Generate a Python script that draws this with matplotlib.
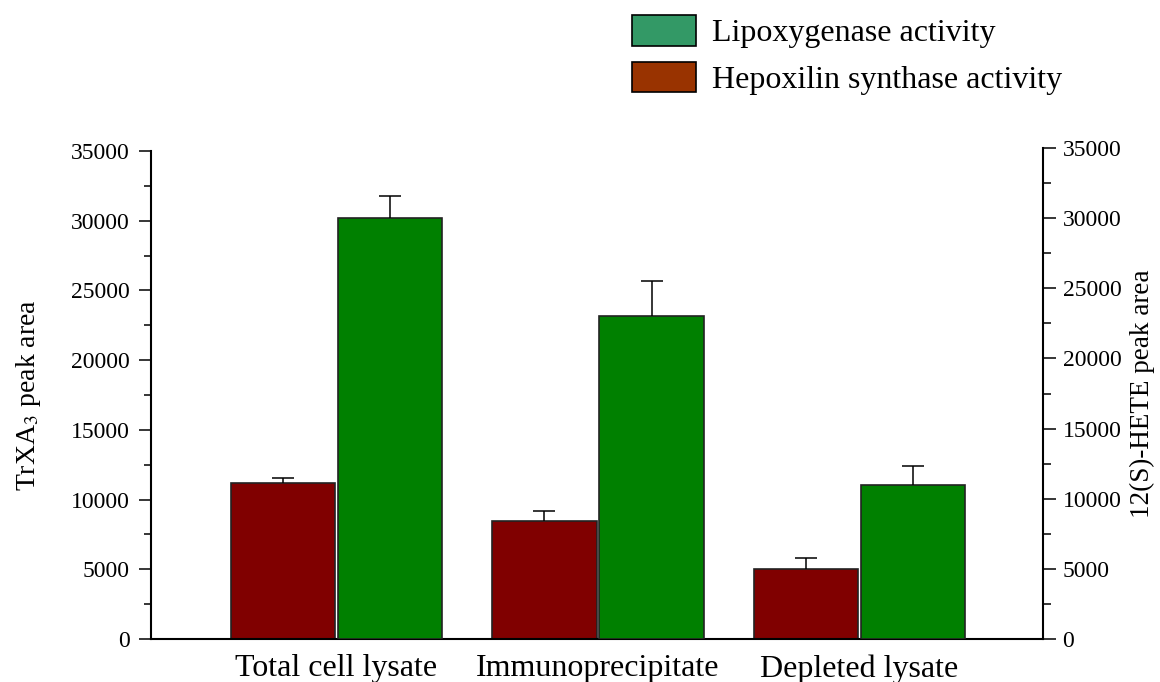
import numpy as np
import matplotlib
matplotlib.use("Agg")
import matplotlib.pyplot as plt
from matplotlib.patches import Patch

# * values
categories = ["Total cell lysate", "Immunoprecipitate", "Depleted lysate"]
hepox = [11200, 8500, 5000]  # TrXA3 peak area, left axis
hepox_err = [350, 700, 800]
lipox = [30000, 23000, 11000]  # 12(S)-HETE peak area, right axis
lipox_err = [1550, 2550, 1350]
yticks = [0, 5000, 10000, 15000, 20000, 25000, 30000, 35000]

plt.rcParams["font.family"] = ["Liberation Serif", "DejaVu Serif"]
plt.rcParams["mathtext.fontset"] = "stix"

fig = plt.figure(figsize=(11.6, 6.82), dpi=100)

plt_axes = [0.1302, 0.0630, 0.7690, 0.7155]  # left, bottom, width, height
ax = fig.add_axes(plt_axes)
ax2 = fig.add_axes([0.1302, 0.0630, 0.7690, 0.7199])
ax2.patch.set_alpha(0)

x = np.arange(1, len(categories) + 1)
bw = 0.40
off = 0.205

ax.bar(x - off, hepox, bw, color="#800000", edgecolor="#222222", linewidth=1.2)
eb1 = ax.errorbar(x - off, hepox, yerr=[np.zeros(3), hepox_err], fmt="none",
                  ecolor="black", elinewidth=1.1, capsize=8, capthick=1.1)
ax2.bar(x + off, lipox, bw, color="#008000", edgecolor="#222222", linewidth=1.2)
eb2 = ax2.errorbar(x + off, lipox, yerr=[np.zeros(3), lipox_err], fmt="none",
                   ecolor="black", elinewidth=1.1, capsize=8, capthick=1.1)
# only the upper cap is shown
eb1[1][0].set_visible(False)
eb2[1][0].set_visible(False)

for a in (ax, ax2):
    a.set_xlim(0.291, 3.702)
    a.set_ylim(0, 35000)
    a.set_yticks(yticks)
    a.set_yticks(np.arange(2500, 35000, 5000), minor=True)
    a.spines["top"].set_visible(False)

ax.spines["right"].set_visible(False)
ax.spines["left"].set_linewidth(1.5)
ax.spines["bottom"].set_linewidth(1.5)
ax.set_xticks(x)
ax.set_xticklabels(categories, fontsize=23)
ax.tick_params(axis="x", length=0, pad=11)
ax.tick_params(axis="y", which="major", direction="out", length=8.5, width=1.1,
               labelsize=17, pad=7)
ax.tick_params(axis="y", which="minor", direction="out", length=5, width=1.1)
ax.set_ylabel("TrXA$_3$ peak area", fontsize=20, labelpad=20)

ax2.spines["left"].set_visible(False)
ax2.spines["bottom"].set_visible(False)
ax2.spines["right"].set_linewidth(1.5)
ax2.set_xticks([])
ax2.yaxis.tick_right()
ax2.yaxis.set_label_position("right")
ax2.tick_params(axis="y", which="major", direction="out", length=9, width=1.1,
                labelsize=17, pad=5)
ax2.tick_params(axis="y", which="minor", direction="out", length=6, width=1.1)
ax2.set_ylabel("12(S)-HETE peak area", fontsize=19.5, labelpad=6)

handles = [
    Patch(facecolor="#339966", edgecolor="black", linewidth=1.2, label="Lipoxygenase activity"),
    Patch(facecolor="#993300", edgecolor="black", linewidth=1.2, label="Hepoxilin synthase activity"),
]
fig.legend(handles=handles, loc="upper left", bbox_to_anchor=(632 / 1160, 1 - 15 / 682),
           frameon=False, fontsize=23, handlelength=2.0, handleheight=1.1,
           handletextpad=0.5, labelspacing=0.42, borderpad=0, borderaxespad=0)

fig.savefig("out.png", dpi=100)
